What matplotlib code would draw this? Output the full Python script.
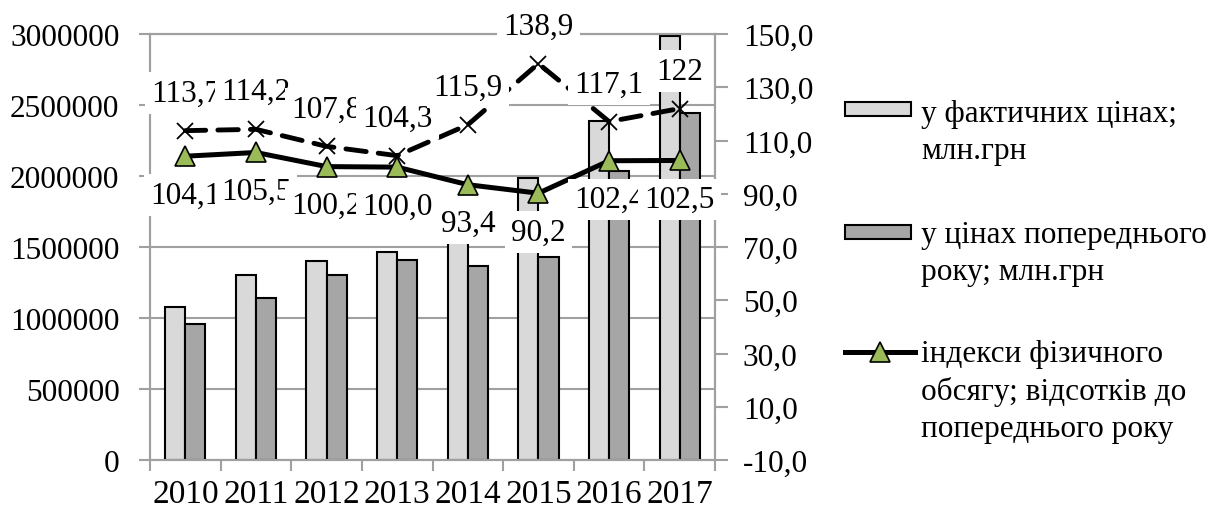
import matplotlib
matplotlib.use("Agg")
import matplotlib.pyplot as plt
from matplotlib.lines import Line2D
from matplotlib.patches import Rectangle
from matplotlib.ticker import FixedLocator, FuncFormatter, MultipleLocator
import numpy as np

# GDP of Ukraine, mln UAH, and year-over-year indices
years = ["2010", "2011", "2012", "2013", "2014", "2015", "2016", "2017"]
gdp_actual = [1079346, 1299991, 1404669, 1465198, 1586915, 1988544, 2385367, 2983882]
gdp_prev_prices = [955000, 1138000, 1302000, 1405000, 1368000, 1431000, 2036000, 2445000]
volume_index = ["104,1", "105,5", "100,2", "100,0", "93,4", "90,2", "102,4", "102,5"]
deflator = ["113,7", "114,2", "107,8", "104,3", "115,9", "138,9", "117,1", "122"]

legend_labels = [
    "у фактичних цінах;\nмлн.грн",
    "у цінах попереднього\nроку; млн.грн",
    "індекси фізичного\nобсягу; відсотків до\nпопереднього року",
]

LIGHT = "#d9d9d9"
DARK = "#a6a6a6"
GREEN = "#9bbb59"
GRID = "#a0a0a0"
FS = 22.5

plt.rcParams["font.family"] = ["Liberation Serif", "DejaVu Serif"]

W, H = 1227, 510
fig = plt.figure(figsize=(W / 100, H / 100), dpi=100)


def px(x, y):
    """Pixel position (from top-left) to figure fraction."""
    return x / W, 1 - y / H


ax = fig.add_axes([150 / W, 49 / H, 565 / W, 426 / H])
ax2 = ax.twinx()

x = np.arange(len(years))
bw = 0.285
ax.bar(x - bw / 2, gdp_actual, bw, color=LIGHT, edgecolor="black", linewidth=1.5, zorder=2)
ax.bar(x + bw / 2, gdp_prev_prices, bw, color=DARK, edgecolor="black", linewidth=1.5, zorder=2)

ax.set_xlim(-0.5, len(years) - 0.5)
ax.set_ylim(0, 3000000)
ax.yaxis.set_major_locator(MultipleLocator(500000))
ax.yaxis.set_major_formatter(FuncFormatter(lambda v, p: f"{int(v)}"))
ax.grid(axis="y", color=GRID, linewidth=1.5, zorder=0)
ax.set_axisbelow(True)

ax.set_xticks(x)
ax.set_xticklabels(years)
ax.set_xticks(np.arange(-0.5, len(years)), minor=True)
ax.tick_params(axis="x", which="major", length=0, pad=13, labelsize=24)
ax.tick_params(axis="x", which="minor", length=8, width=1.5, color=GRID, direction="out")
ax.tick_params(axis="y", length=8, width=1.5, color=GRID, direction="out", pad=14, labelsize=FS)

vol = [float(s.replace(",", ".")) for s in volume_index]
dfl = [float(s.replace(",", ".")) for s in deflator]

ax2.set_ylim(-10, 150)
ax2.yaxis.set_major_locator(FixedLocator(np.arange(-10, 151, 20)))
ax2.yaxis.set_major_formatter(FuncFormatter(lambda v, p: f"{v:.1f}".replace(".", ",")))
ax2.tick_params(axis="y", length=9, width=1.5, color=GRID, direction="out", pad=11, labelsize=FS)

for a in (ax, ax2):
    for s in a.spines.values():
        s.set_color(GRID)
        s.set_linewidth(1.5)

ax2.plot(x, dfl, color="black", linewidth=3.5, dashes=(4.2, 2.5), dash_capstyle="round",
         marker="x", markersize=11, markeredgewidth=1.3, markeredgecolor="black", zorder=3)
ax2.plot(x, vol, color="black", linewidth=3.6, marker="^", markersize=15,
         markerfacecolor=GREEN, markeredgecolor="black", markeredgewidth=1.2, zorder=4)

box = dict(facecolor="white", edgecolor="none", pad=4.5)
for i in range(len(years)):
    ax2.annotate(deflator[i], (x[i], dfl[i]), xytext=(0, 27), textcoords="offset points",
                 ha="center", va="center", fontsize=FS, bbox=box, zorder=10 + i)
for i in range(len(years)):
    ax2.annotate(volume_index[i], (x[i], vol[i]), xytext=(0, -28), textcoords="offset points",
                 ha="center", va="center", fontsize=FS, bbox=box, zorder=20 + i)

# legend drawn in figure space: handle on the first text line
fig.add_artist(Rectangle(px(845, 117), 66 / W, 14 / H, transform=fig.transFigure,
                         facecolor=LIGHT, edgecolor="black", linewidth=1.5))
fig.add_artist(Rectangle(px(845, 240), 66 / W, 14 / H, transform=fig.transFigure,
                         facecolor=DARK, edgecolor="black", linewidth=1.5))
lx0, ly = px(845, 353)
lx1, _ = px(915, 353)
fig.add_artist(Line2D([lx0, lx1], [ly, ly], transform=fig.transFigure, color="black", linewidth=3.6))
fig.add_artist(Line2D([(lx0 + lx1) / 2], [ly], transform=fig.transFigure, marker="^", markersize=15,
                      markerfacecolor=GREEN, markeredgecolor="black", markeredgewidth=1.2))

# y is the baseline of the last line of each entry
for label, base in zip(legend_labels, [159, 280, 437]):
    tx, ty = px(921, base)
    fig.text(tx, ty, label, ha="left", va="baseline", fontsize=FS, linespacing=1.36)

fig.savefig("out.png", dpi=100)
